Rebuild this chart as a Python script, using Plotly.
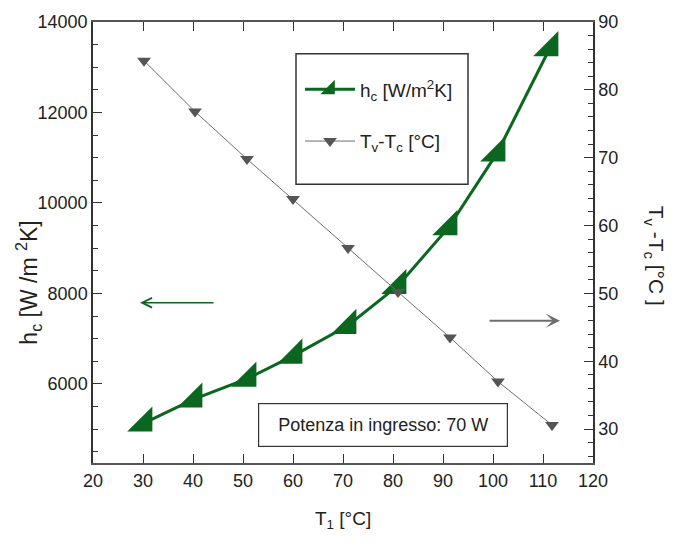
import plotly.graph_objects as go

# data
t1_hc = [30.2, 40.2, 51.0, 60.2, 71.0, 81.0, 91.2, 100.8, 111.4]
hc = [5130, 5660, 6120, 6630, 7290, 8170, 9470, 11100, 13430]

t1_dt = [30.2, 40.4, 50.8, 60.0, 71.0, 81.0, 91.4, 101.0, 111.8]
dt = [84.3, 76.8, 69.8, 63.9, 56.7, 50.2, 43.5, 37.0, 30.6]

GREEN = "#0b661f"
GREY = "#6e6e6e"
GREY_MK = "#555555"
INK = "#222222"
FONT = "Liberation Sans, Arial, sans-serif"

fig = go.Figure()

fig.add_trace(go.Scatter(
    x=t1_hc, y=hc, mode="lines+markers",
    name="h<sub>c</sub> [W/m<sup>2</sup>K]", legendgroup="a",
    line=dict(color=GREEN, width=3),
    marker=dict(symbol="triangle-se", size=28, color=GREEN),
))
fig.add_trace(go.Scatter(
    x=t1_dt, y=dt, mode="lines+markers", yaxis="y2",
    name="T<sub>v</sub>-T<sub>c</sub> [°C]", legendgroup="b",
    line=dict(color=GREY, width=1),
    marker=dict(symbol="triangle-down", size=12, color=GREY_MK),
))

axis_common = dict(
    showline=True, linecolor="#333", linewidth=1.5,
    ticks="inside", ticklen=9, tickcolor="#333", tickwidth=1.2,
    showgrid=False, zeroline=False,
    tickfont=dict(family=FONT, size=18, color=INK),
)

fig.update_layout(
    width=678, height=552,
    paper_bgcolor="white", plot_bgcolor="white",
    margin=dict(l=93, r=85, t=20, b=89),
    font=dict(family=FONT, size=18, color=INK),
    xaxis=dict(range=[20, 120], dtick=10, tick0=20, mirror="ticks", **axis_common),
    yaxis=dict(range=[4250, 14000], dtick=2000, tick0=0, tickformat="d",
               minor=dict(dtick=500, ticks="inside", ticklen=5, tickcolor="#333"),
               **axis_common),
    yaxis2=dict(range=[25, 90], dtick=10, tick0=0, overlaying="y", side="right",
                minor=dict(dtick=2, ticks="inside", ticklen=5, tickcolor="#333"),
                **axis_common),
    showlegend=True,
    legend=dict(x=0.414, y=0.89, xanchor="left", yanchor="top",
                bgcolor="rgba(0,0,0,0)", borderwidth=0,
                tracegroupgap=24, itemwidth=50,
                font=dict(family=FONT, size=19, color=INK)),
)
fig.update_xaxes(linecolor="#555", linewidth=2)

# legend frame
fig.add_shape(type="rect", xref="paper", yref="paper",
              x0=0.406, x1=0.75, y0=0.632, y1=0.928,
              line=dict(color="#333", width=1.5), fillcolor="rgba(0,0,0,0)")

# axis titles
fig.add_annotation(text="h<sub>c</sub> [W /m <sup>2</sup>K]", xref="paper", yref="paper",
                   x=-0.13, y=0.409, xanchor="center", yanchor="middle",
                   textangle=-90, showarrow=False, font=dict(size=23))
fig.add_annotation(text="T<sub>v</sub> -T<sub>c</sub> [°C ]", xref="paper", yref="paper",
                   x=1.124, y=0.47, xanchor="center", yanchor="middle",
                   textangle=90, showarrow=False, font=dict(size=21))
fig.add_annotation(text="T<sub>1</sub> [°C]", xref="paper", yref="paper",
                   x=0.5, y=-0.13, xanchor="center", yanchor="middle",
                   showarrow=False, font=dict(size=19))

# note box
fig.add_annotation(text="Potenza in ingresso: 70 W", xref="paper", yref="paper",
                   x=0.579, y=0.086, xanchor="center", yanchor="middle",
                   showarrow=False, width=236, height=30, borderpad=6,
                   bordercolor="#333", borderwidth=1.2, bgcolor="white",
                   font=dict(size=18))

# direction arrows
fig.add_annotation(xref="paper", yref="paper", x=(140 - 93) / 500, y=(463 - 302) / 443,
                   ax=75, ay=0, text="", showarrow=True,
                   arrowhead=5, arrowsize=1.3, arrowwidth=1.5, arrowcolor=GREEN)
fig.add_annotation(xref="paper", yref="paper", x=(560 - 93) / 500, y=(463 - 320) / 443,
                   ax=-72, ay=0, text="", showarrow=True,
                   arrowhead=3, arrowsize=1.2, arrowwidth=2, arrowcolor=GREY)

fig.write_html("out.html", config={"displayModeBar": False},
               post_script="document.body.style.margin='0';")
